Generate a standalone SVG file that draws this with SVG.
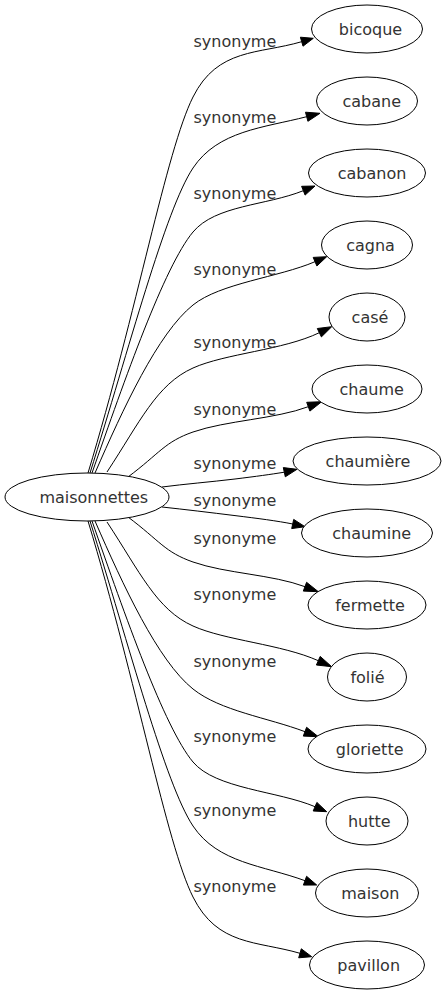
<svg xmlns="http://www.w3.org/2000/svg" width="446" height="995" viewBox="0 0 446 995">
<style>
.n ellipse{fill:#fff;stroke:#000;stroke-width:1}
.n text{font-family:"DejaVu Sans",sans-serif;font-size:16px;fill:#333;text-anchor:middle}
.e path{fill:none;stroke:#000;stroke-width:1}
.e polygon{fill:#000;stroke:#000;stroke-width:1}
.l text{font-family:"DejaVu Sans",sans-serif;font-size:16px;fill:#333}
</style>
<rect width="446" height="995" fill="#fff"/>
<g id="edges" class="e">
<path d="M88,473 C137.3,310.3 166.2,150.6 193,97 C217.6,47.8 258.5,54.3 301.7,41.7"/><polygon points="303,46.2 313.3,38.3 300.4,37.2"/>
<path d="M90,473 C129,349 165.3,209.6 193,168 C218,130.6 263.1,127.9 306.7,116.7"/><polygon points="307.9,121.3 320,113.3 305.5,112.2"/>
<path d="M92,473 C125,378.6 164.2,266.6 193,232 C215.4,205.1 266.2,205.6 303.3,190.7"/><polygon points="305.1,195.1 315,186 301.6,186.3"/>
<path d="M95,473 C123,408.8 157.9,333.1 193,305 C220.3,283.1 278.2,277.4 315,261.7"/><polygon points="316.9,266 326.7,256.7 313.2,257.4"/>
<path d="M107,472 C140,421.9 156.5,384.4 193,368 C224.9,353.6 283.3,350.1 319.3,332.7"/><polygon points="321.4,336.9 331.7,326.7 317.3,328.5"/>
<path d="M128,477 C160,453 164.7,441.9 193,432 C226,420.5 275.5,419 308.3,406.7"/><polygon points="309.9,411.1 321.7,401.7 306.7,402.3"/>
<path d="M162,487 C185,484 210,482 235,479 C257,476.3 270,474.5 284.3,472.2"/><polygon points="285.3,476.8 297,469.3 283.3,467.6"/>
<path d="M162,507 C185,509.5 210,512.5 235,515.6 C257,518.3 278,521 292.7,524"/><polygon points="291.7,528.6 305,526.7 293.7,519.4"/>
<path d="M128,517 C160,541 164.7,552.1 193,562 C226,573.6 272.2,574.4 305,586.7"/><polygon points="303.3,591.1 318.3,591.7 306.6,582.3"/>
<path d="M107,522 C140,572.1 156.5,609.6 193,626 C224.9,640.4 281.8,644.3 318.3,660.7"/><polygon points="316.4,665 331.7,666.7 320.2,656.4"/>
<path d="M95,521 C123,585.2 157.9,660.9 193,689 C220.3,710.9 267.6,717.6 305,731.7"/><polygon points="303.3,736.1 318.3,736.7 306.6,727.3"/>
<path d="M92,521 C125,615.4 164.2,727.4 193,762 C215.4,788.9 278.2,791 315,806.7"/><polygon points="313.2,811 326.7,811.7 316.9,802.4"/>
<path d="M90,521 C129,645 165.3,784.4 193,826 C218,863.4 262.8,865.2 305,880.7"/><polygon points="303.4,885.1 316.7,885 306.6,876.3"/>
<path d="M88,521 C137.3,683.7 166.2,843.4 193,897 C217.6,946.2 256.8,940.7 300,953.3"/><polygon points="298.7,957.8 311.7,956.7 301.3,948.8"/>
</g>
<g id="labels" class="l">
<text x="193.5" y="46.5">synonyme</text>
<text x="193.5" y="122.5">synonyme</text>
<text x="193.5" y="198.7">synonyme</text>
<text x="193.5" y="274.8">synonyme</text>
<text x="193.5" y="348">synonyme</text>
<text x="193.5" y="414.5">synonyme</text>
<text x="193.5" y="469.3">synonyme</text>
<text x="193.5" y="506">synonyme</text>
<text x="193.5" y="544.3">synonyme</text>
<text x="193.5" y="600">synonyme</text>
<text x="193.5" y="666.6">synonyme</text>
<text x="193.5" y="741.5">synonyme</text>
<text x="193.5" y="816">synonyme</text>
<text x="193.5" y="892">synonyme</text>
</g>
<g id="maisonnettes" class="n"><ellipse cx="87" cy="497" rx="82" ry="24"/><text x="93.8" y="502.7">maisonnettes</text></g>
<g id="bicoque" class="n"><ellipse cx="367" cy="29" rx="55.5" ry="24"/><text x="370.5" y="35">bicoque</text></g>
<g id="cabane" class="n"><ellipse cx="367" cy="101" rx="50.5" ry="24"/><text x="371.7" y="107">cabane</text></g>
<g id="cabanon" class="n"><ellipse cx="367" cy="173" rx="58.5" ry="24"/><text x="372" y="179">cabanon</text></g>
<g id="cagna" class="n"><ellipse cx="367" cy="245" rx="45.5" ry="24"/><text x="370.5" y="251">cagna</text></g>
<g id="case" class="n"><ellipse cx="367" cy="317" rx="38" ry="24"/><text x="370" y="323">casé</text></g>
<g id="chaume" class="n"><ellipse cx="367" cy="389" rx="55" ry="24"/><text x="371.7" y="395">chaume</text></g>
<g id="chaumiere" class="n"><ellipse cx="367" cy="461" rx="74" ry="24"/><text x="368" y="467">chaumière</text></g>
<g id="chaumine" class="n"><ellipse cx="367" cy="533" rx="65.5" ry="24"/><text x="371.7" y="539">chaumine</text></g>
<g id="fermette" class="n"><ellipse cx="367" cy="605" rx="59" ry="24"/><text x="370" y="611">fermette</text></g>
<g id="folie" class="n"><ellipse cx="367" cy="677" rx="39.5" ry="24"/><text x="367.5" y="683">folié</text></g>
<g id="gloriette" class="n"><ellipse cx="367" cy="749" rx="59" ry="24"/><text x="369.7" y="755">gloriette</text></g>
<g id="hutte" class="n"><ellipse cx="367" cy="821" rx="41" ry="24"/><text x="369.3" y="827">hutte</text></g>
<g id="maison" class="n"><ellipse cx="367" cy="893" rx="51.5" ry="24"/><text x="370.3" y="899">maison</text></g>
<g id="pavillon" class="n"><ellipse cx="367" cy="965" rx="57.5" ry="24"/><text x="368.7" y="971">pavillon</text></g>
</svg>
